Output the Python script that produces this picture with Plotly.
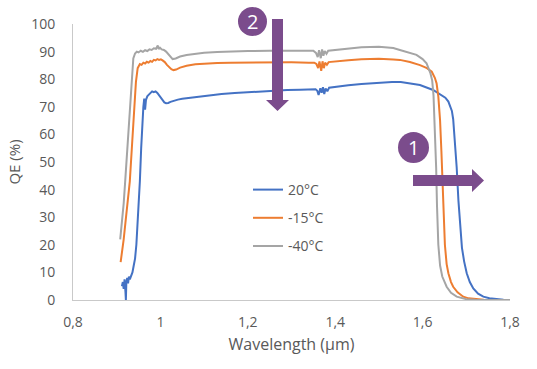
import plotly.graph_objects as go

# ---------------- data ----------------
x_tickvals = [0.8, 1.0, 1.2, 1.4, 1.6, 1.8]
x_ticktext = ["0,8", "1", "1,2", "1,4", "1,6", "1,8"]
y_tickvals = [0, 10, 20, 30, 40, 50, 60, 70, 80, 90, 100]

series_names = ["20°C", "-15°C", "-40°C"]
series_colors = ["#4472C4", "#ED7D31", "#A5A5A5"]

wl_20 = [0.912, 0.914, 0.916, 0.918, 0.920, 0.921, 0.922, 0.924, 0.926, 0.928, 0.930,
         0.933, 0.936, 0.939, 0.942, 0.945, 0.948, 0.951, 0.953, 0.956, 0.959, 0.961,
         0.963, 0.965, 0.967, 0.970, 0.973, 0.977, 0.981, 0.985, 0.989, 0.993, 0.997,
         1.001, 1.005, 1.009, 1.013, 1.018, 1.023, 1.03, 1.04, 1.05, 1.07, 1.09, 1.11,
         1.14, 1.17, 1.20, 1.23, 1.26, 1.29, 1.32, 1.345, 1.355, 1.359, 1.362, 1.366,
         1.369, 1.372, 1.375, 1.378, 1.382, 1.386, 1.39, 1.40, 1.43, 1.46, 1.50, 1.53,
         1.55, 1.57, 1.594, 1.624, 1.644, 1.652, 1.659, 1.664, 1.667, 1.670, 1.674,
         1.678, 1.682, 1.686, 1.690, 1.695, 1.701, 1.708, 1.716, 1.727, 1.739, 1.753,
         1.769, 1.785, 1.80]
qe_20 = [5, 6.5, 4, 7.5, 3, 0, 6, 8, 6, 8.5, 7.5,
         9, 10, 12.5, 15, 20, 28, 36, 43, 55, 66, 70,
         73, 69, 72.5, 73.8, 74.3, 75, 75.6, 75.3, 75.6, 75, 74.2,
         73, 72.2, 71.6, 71.3, 71.4, 71.8, 72.2, 72.6, 72.9, 73.3, 73.7, 74.1,
         74.6, 75, 75.3, 75.6, 75.9, 76.1, 76.2, 76.3, 76.4, 75.8, 74.3, 76.7,
         75.1, 77.1, 74.6, 76.6, 75.6, 76.9, 77, 77.3, 77.8, 78.3, 78.8, 79,
         79, 78.6, 77.9, 76.1, 74.3, 73.3, 71.9, 70, 68.5, 65.5, 58,
         48, 36, 26, 19, 14, 9.7, 6.5, 4.2, 2.3, 1.2, 0.6,
         0.3, 0.1, 0]

wl_m15 = [0.909, 0.912, 0.916, 0.920, 0.925, 0.930, 0.935, 0.940, 0.944, 0.948, 0.953,
          0.957, 0.961, 0.965, 0.969, 0.973, 0.977, 0.981, 0.985, 0.989, 0.993, 0.997,
          1.001, 1.005, 1.010, 1.015, 1.020, 1.025, 1.030, 1.036, 1.045, 1.06, 1.08,
          1.10, 1.13, 1.16, 1.20, 1.25, 1.30, 1.34, 1.352, 1.357, 1.361, 1.364, 1.368,
          1.371, 1.374, 1.377, 1.381, 1.385, 1.39, 1.40, 1.43, 1.46, 1.50, 1.533,
          1.548, 1.571, 1.594, 1.61, 1.621, 1.628, 1.632, 1.636, 1.640, 1.643, 1.646,
          1.648, 1.651, 1.655, 1.659, 1.665, 1.670, 1.68, 1.693, 1.705, 1.72, 1.74, 1.80]
qe_m15 = [13.7, 17, 22, 28, 35, 43, 56, 70, 79, 84, 85.5,
          85.2, 86, 85.7, 86.3, 86, 86.6, 86.3, 87.0, 86.8, 87.3, 87.0,
          87.2, 86.8, 86.2, 85.2, 84.2, 83.6, 83.3, 83.5, 84.2, 84.9, 85.4,
          85.7, 85.9, 86, 86.1, 86.1, 86.1, 86, 86, 85.5, 84, 86.4, 83,
          86.5, 84, 86, 85.2, 86.2, 86.3, 86.5, 86.9, 87.2, 87.4, 87.1,
          87, 86.2, 85.1, 84, 82.7, 80.5, 78.5, 73.7, 65, 54, 40,
          30, 20, 13, 9.7, 6.5, 4.8, 2.8, 1.2, 0.6, 0.3, 0.1, 0]

wl_m40 = [0.908, 0.912, 0.916, 0.919, 0.923, 0.927, 0.931, 0.935, 0.938, 0.942, 0.946,
          0.950, 0.955, 0.960, 0.965, 0.970, 0.975, 0.980, 0.985, 0.990, 0.994, 0.996,
          0.999, 1.003, 1.008, 1.013, 1.018, 1.023, 1.028, 1.035, 1.045, 1.06, 1.08,
          1.10, 1.13, 1.16, 1.20, 1.25, 1.30, 1.33, 1.35, 1.356, 1.360, 1.363, 1.367,
          1.370, 1.373, 1.376, 1.380, 1.384, 1.39, 1.40, 1.43, 1.46, 1.50, 1.533,
          1.548, 1.571, 1.586, 1.60, 1.609, 1.618, 1.622, 1.625, 1.628, 1.631, 1.633,
          1.636, 1.640, 1.645, 1.655, 1.665, 1.678, 1.69, 1.70, 1.72, 1.80]
qe_m40 = [22, 28, 35, 42, 52, 63, 74, 83, 87.5, 89.3, 90,
          89.7, 90.3, 89.9, 90.5, 90.2, 90.8, 90.6, 91.2, 91.0, 92.2, 90.9,
          91.4, 90.8, 90.6, 90, 89, 88, 87.3, 87.5, 88.2, 88.8, 89.3,
          89.6, 89.9, 90.1, 90.2, 90.3, 90.3, 90.2, 90.3, 89.5, 88, 90.5, 87.6,
          90.8, 88.5, 90.2, 89.2, 90.3, 90.4, 90.7, 91.2, 91.6, 91.8, 91.3,
          90.6, 89.6, 88.8, 87.3, 85.8, 82.1, 79.5, 74, 62, 48, 34,
          20, 12.5, 8.5, 4.8, 2.6, 1.2, 0.6, 0.3, 0.1, 0]

wavelengths = [wl_20, wl_m15, wl_m40]
qe_values = [qe_20, qe_m15, qe_m40]

# ---------------- figure ----------------
W, H = 537, 369
ML, MR, MT, MB = 73, 27, 24, 69
PW, PH = W - ML - MR, H - MT - MB

def px(x):  # pixel -> paper x
    return (x - ML) / PW

def py(y):  # pixel -> paper y
    return (H - MB - y) / PH

TEXT = "#595959"
FONT = "Open Sans, Roboto, sans-serif"
PURPLE = "#7B4C8C"

fig = go.Figure()
for i, (name, col) in enumerate(zip(series_names, series_colors)):
    fig.add_trace(go.Scatter(
        x=wavelengths[i], y=qe_values[i], mode="lines", name=name,
        line=dict(color=col, width=2), legendgroup=f"g{i}"))

shapes = []
# circles
shapes.append(dict(type="circle", xref="paper", yref="paper",
                   x0=px(238), x1=px(267), y0=py(36), y1=py(7),
                   fillcolor=PURPLE, line=dict(width=0)))
shapes.append(dict(type="circle", xref="paper", yref="paper",
                   x0=px(398), x1=px(429), y0=py(163), y1=py(132),
                   fillcolor=PURPLE, line=dict(width=0)))

def path(points):
    return "M " + " L ".join(f"{px(a)},{py(b)}" for a, b in points) + " Z"

# down arrow (2)
shapes.append(dict(type="path", xref="paper", yref="paper",
                   path=path([(272, 19), (283, 19), (283, 100), (289, 100),
                              (277.5, 111), (266, 100), (272, 100)]),
                   fillcolor=PURPLE, line=dict(width=0)))
# right arrow (1)
shapes.append(dict(type="path", xref="paper", yref="paper",
                   path=path([(413, 175), (472, 175), (472, 169), (484, 180.5),
                              (472, 192), (472, 186), (413, 186)]),
                   fillcolor=PURPLE, line=dict(width=0)))

annotations = [
    dict(x=px(252.5), y=py(21.5), xref="paper", yref="paper", text="2",
         xanchor="center", yanchor="middle",
         showarrow=False, font=dict(color="white", size=20, family=FONT)),
    dict(x=px(413.5), y=py(147.5), xref="paper", yref="paper", text="1",
         xanchor="center", yanchor="middle",
         showarrow=False, font=dict(color="white", size=20, family=FONT)),
]

fig.update_layout(
    width=W, height=H,
    margin=dict(l=ML, r=MR, t=MT, b=MB, autoexpand=False),
    paper_bgcolor="white", plot_bgcolor="white",
    font=dict(family=FONT, color=TEXT, size=14),
    showlegend=True,
    legend=dict(x=px(248), y=py(174), xanchor="left", yanchor="top",
                bgcolor="rgba(0,0,0,0)", font=dict(size=14, color=TEXT),
                tracegroupgap=7),
    shapes=shapes, annotations=annotations,
    hovermode=False,
)
fig.update_xaxes(range=[0.8, 1.8], tickvals=x_tickvals, ticktext=x_ticktext,
                 showgrid=False, zeroline=False, showline=True,
                 linecolor="#C9C9C9", linewidth=1, ticks="",
                 ticklabelstandoff=9,
                 title=dict(text="Wavelength (μm)", standoff=9,
                            font=dict(size=16, color=TEXT)))
fig.update_yaxes(range=[0, 100], tickvals=y_tickvals,
                 showgrid=False, zeroline=False, showline=True,
                 linecolor="#C9C9C9", linewidth=1, ticks="",
                 ticklabelstandoff=14,
                 title=dict(text="QE (%)", standoff=6,
                            font=dict(size=15, color=TEXT)))

fig.write_html("out.html", config={"displayModeBar": False},
               post_script="document.body.style.margin='0px';"
                           "document.body.style.overflow='hidden';")
